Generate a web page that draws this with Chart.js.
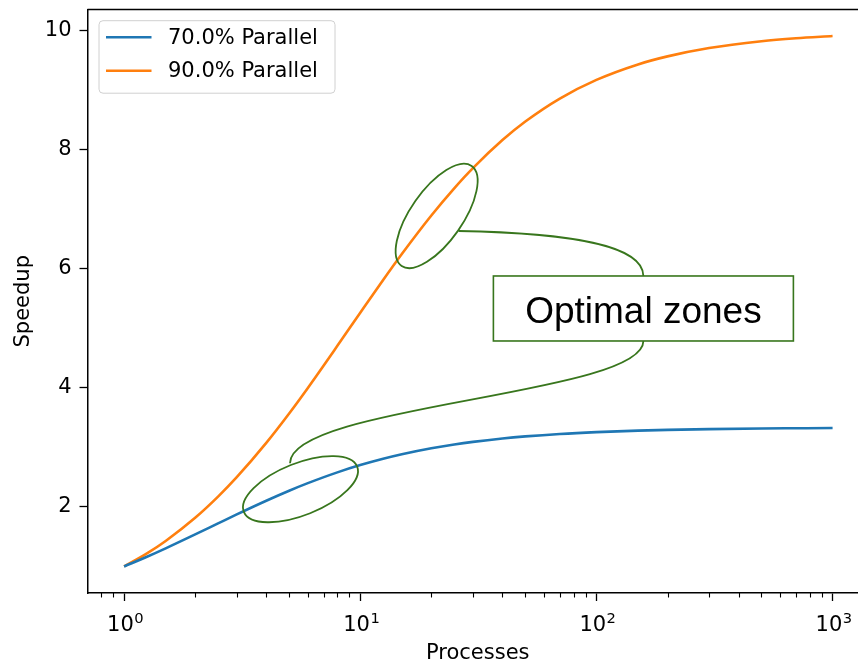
<!DOCTYPE html>
<html><head><meta charset="utf-8">
<script src="https://cdn.jsdelivr.net/npm/chart.js@4.4.1/dist/chart.umd.min.js"></script>
<style>
html,body{margin:0;padding:0;background:#fff;overflow:hidden;}
#wrap{width:858px;height:663px;overflow:hidden;position:relative;background:#fff;}
#c{display:block;position:absolute;left:0;top:0;max-width:none;}
</style></head><body>
<div id="wrap"><canvas id="c" width="900" height="663" style="width:900px;height:663px"></canvas></div>
<script>
// ---- data ----
const processes = [1, 1.25, 1.5, 2, 2.5, 3, 4, 5, 6, 8, 10, 12.5, 15, 20, 25, 30, 40, 50, 70, 100, 150, 200, 300, 500, 700, 1000];
const speedup70 = [1.000, 1.163, 1.304, 1.538, 1.724, 1.875, 2.105, 2.273, 2.400, 2.581, 2.703, 2.809, 2.885, 2.985, 3.049, 3.093, 3.150, 3.185, 3.226, 3.257, 3.282, 3.295, 3.308, 3.318, 3.322, 3.326];
const speedup90 = [1.000, 1.220, 1.429, 1.818, 2.174, 2.500, 3.077, 3.571, 4.000, 4.706, 5.263, 5.814, 6.250, 6.897, 7.353, 7.692, 8.163, 8.475, 8.861, 9.174, 9.434, 9.569, 9.709, 9.823, 9.873, 9.911];
const seriesLabels = ['70.0% Parallel', '90.0% Parallel'];
const yTickValues = [2, 4, 6, 8, 10];
const xMajorTicks = [1, 10, 100, 1000];
const xMajorBase = '10';
const xMajorExponents = ['0', '1', '2', '3'];
const xMinorTicks = [0.8, 0.9, 2, 3, 4, 5, 6, 7, 8, 9, 20, 30, 40, 50, 60, 70, 80, 90, 200, 300, 400, 500, 600, 700, 800, 900];
const xTitle = 'Processes';
const yTitle = 'Speedup';
const noteText = 'Optimal zones';
const zoneCentersX = [21.06, 5.585];   // ellipse centres (data units)
const zoneCentersY = [6.888, 2.299];
const noteBoxX = 158.1, noteBoxY = 5.334; // note box centre (data units)

// ---- styling ----
const FONT = 'DejaVu Sans';
const FS = 21;
const GREEN = '#38761d';
const COLORS = ['#1f77b4', '#ff7f0e'];

const framePlugin = {
  id: 'frame',
  afterDraw(chart) {
    const {ctx, chartArea: a, scales: {x}} = chart;
    ctx.save();
    ctx.strokeStyle = '#000';
    ctx.lineWidth = 1.5;
    ctx.beginPath();
    ctx.moveTo(a.left, a.top); ctx.lineTo(a.right, a.top); ctx.lineTo(a.right, a.bottom);
    ctx.stroke();
    ctx.lineWidth = 1.1;
    xMinorTicks.forEach(v => {
      const px = Math.round(x.getPixelForValue(v)) + 0.5;
      ctx.beginPath(); ctx.moveTo(px, a.bottom); ctx.lineTo(px, a.bottom + 4.5); ctx.stroke();
    });
    // major tick labels: base with raised exponent (mathtext style)
    ctx.fillStyle = '#000';
    ctx.textBaseline = 'alphabetic';
    ctx.textAlign = 'left';
    xMajorTicks.forEach((v, i) => {
      const px = x.getPixelForValue(v);
      ctx.font = FS + 'px "' + FONT + '"';
      const wb = ctx.measureText(xMajorBase).width;
      ctx.font = (FS * 0.7) + 'px "' + FONT + '"';
      const we = ctx.measureText(xMajorExponents[i]).width;
      const x0 = px - (wb + we) / 2 + 1;
      const base = a.bottom + 38;
      ctx.font = FS + 'px "' + FONT + '"';
      ctx.fillText(xMajorBase, x0, base);
      ctx.font = (FS * 0.7) + 'px "' + FONT + '"';
      ctx.fillText(xMajorExponents[i], x0 + wb + 0.5, base - 8);
    });
    ctx.restore();
  }
};

const legendPlugin = {
  id: 'mplLegend',
  afterDatasetsDraw(chart) {
    const {ctx, chartArea: a} = chart;
    const x0 = a.left + 11.5, y0 = a.top + 11.2, w = 236, h = 72.5, r = 4;
    ctx.save();
    ctx.beginPath();
    ctx.moveTo(x0 + r, y0);
    ctx.arcTo(x0 + w, y0, x0 + w, y0 + h, r);
    ctx.arcTo(x0 + w, y0 + h, x0, y0 + h, r);
    ctx.arcTo(x0, y0 + h, x0, y0, r);
    ctx.arcTo(x0, y0, x0 + w, y0, r);
    ctx.closePath();
    ctx.fillStyle = 'rgba(255,255,255,0.8)';
    ctx.fill();
    ctx.strokeStyle = '#d0d0d0';
    ctx.lineWidth = 1;
    ctx.stroke();
    chart.data.datasets.forEach((ds, i) => {
      const cy = y0 + 16.6 + i * 33.4;
      ctx.strokeStyle = ds.borderColor;
      ctx.lineWidth = ds.borderWidth;
      ctx.beginPath(); ctx.moveTo(x0 + 7, cy); ctx.lineTo(x0 + 52.5, cy); ctx.stroke();
      ctx.fillStyle = '#000';
      ctx.font = FS + 'px "' + FONT + '"';
      ctx.textBaseline = 'middle';
      ctx.textAlign = 'left';
      ctx.fillText(ds.label, x0 + 69, cy + 1);
    });
    ctx.restore();
  }
};

const notePlugin = {
  id: 'notes',
  afterDraw(chart) {
    const {ctx, scales: {x, y}} = chart;
    const rot = [-55 * Math.PI / 180, -21.8 * Math.PI / 180];
    const e = zoneCentersX.map((v, i) => ({cx: x.getPixelForValue(v), cy: y.getPixelForValue(zoneCentersY[i])}));
    ctx.save();
    ctx.strokeStyle = GREEN;
    ctx.lineWidth = 1.8;
    e.forEach((p, i) => {
      ctx.beginPath();
      ctx.ellipse(p.cx, p.cy, 61, 26, rot[i], 0, 2 * Math.PI);
      ctx.stroke();
    });
    const bx = x.getPixelForValue(noteBoxX), by = y.getPixelForValue(noteBoxY);
    const bw = 300, bh = 65;
    const top = {x: bx, y: by - bh / 2}, bot = {x: bx, y: by + bh / 2};
    const s1 = {x: e[0].cx + 22, y: e[0].cy + 15};
    ctx.beginPath();
    ctx.moveTo(s1.x, s1.y);
    ctx.bezierCurveTo(s1.x + 112, s1.y + 2, top.x, top.y - 31, top.x, top.y);
    ctx.stroke();
    const s2 = {x: e[1].cx - 10.5, y: e[1].cy - 26};
    ctx.beginPath();
    ctx.moveTo(bot.x, bot.y);
    ctx.bezierCurveTo(bot.x, bot.y + 54, s2.x, s2.y - 58, s2.x, s2.y);
    ctx.stroke();
    ctx.fillStyle = '#fff';
    ctx.fillRect(bx - bw / 2, by - bh / 2, bw, bh);
    ctx.lineWidth = 1.6;
    ctx.strokeRect(bx - bw / 2, by - bh / 2, bw, bh);
    ctx.fillStyle = '#000';
    ctx.font = '37px "Liberation Sans", Arial, sans-serif';
    ctx.textAlign = 'center';
    ctx.textBaseline = 'alphabetic';
    ctx.fillText(noteText, bx, by + 14.2);
    ctx.restore();
  }
};

const makeSeries = ys => processes.map((p, i) => ({x: p, y: ys[i]}));

new Chart(document.getElementById('c'), {
  type: 'line',
  data: {
    datasets: [
      {label: seriesLabels[0], data: makeSeries(speedup70), borderColor: COLORS[0], backgroundColor: COLORS[0], borderWidth: 2.6, pointRadius: 0, cubicInterpolationMode: 'monotone', fill: false},
      {label: seriesLabels[1], data: makeSeries(speedup90), borderColor: COLORS[1], backgroundColor: COLORS[1], borderWidth: 2.6, pointRadius: 0, cubicInterpolationMode: 'monotone', fill: false}
    ]
  },
  options: {
    responsive: false,
    animation: false,
    devicePixelRatio: 1,
    events: [],
    layout: {padding: {top: 9.5, right: 32, left: 0, bottom: 0}},
    plugins: {legend: {display: false}, tooltip: {enabled: false}, title: {display: false}},
    scales: {
      x: {
        type: 'logarithmic',
        min: Math.pow(10, -0.15),
        max: Math.pow(10, 3.15),
        afterBuildTicks: s => { s.ticks = xMajorTicks.map(v => ({value: v})); },
        afterFit: s => { s.height = 70; s.paddingLeft = 0; s.paddingRight = 0; s.paddingTop = 0; s.paddingBottom = 0; },
        ticks: {autoSkip: false, maxRotation: 0, minRotation: 0, padding: 9, color: '#000',
          font: {family: FONT, size: FS},
          callback: () => ''},
        grid: {display: true, drawOnChartArea: false, drawTicks: true, tickLength: 8, tickWidth: 1.3, tickColor: '#000'},
        border: {display: true, color: '#000', width: 1.5},
        title: {display: true, text: xTitle, color: '#000', font: {family: FONT, size: FS, lineHeight: 0.9}, padding: {top: 0, bottom: 0}}
      },
      y: {
        type: 'linear',
        min: 0.5544,
        max: 10.3566,
        afterBuildTicks: s => { s.ticks = yTickValues.map(v => ({value: v})); },
        afterFit: s => { s.width = 87.5; s.paddingTop = 0; s.paddingBottom = 0; s.paddingLeft = 0; s.paddingRight = 0; },
        ticks: {padding: 8, color: '#000', font: {family: FONT, size: FS}, callback: v => String(v)},
        grid: {display: true, drawOnChartArea: false, drawTicks: true, tickLength: 8, tickWidth: 1.3, tickColor: '#000'},
        border: {display: true, color: '#000', width: 1.5},
        title: {display: true, text: yTitle, color: '#000', font: {family: FONT, size: FS}, padding: {top: 10.5, bottom: 0}}
      }
    }
  },
  plugins: [framePlugin, legendPlugin, notePlugin]
});
</script>
</body></html>
